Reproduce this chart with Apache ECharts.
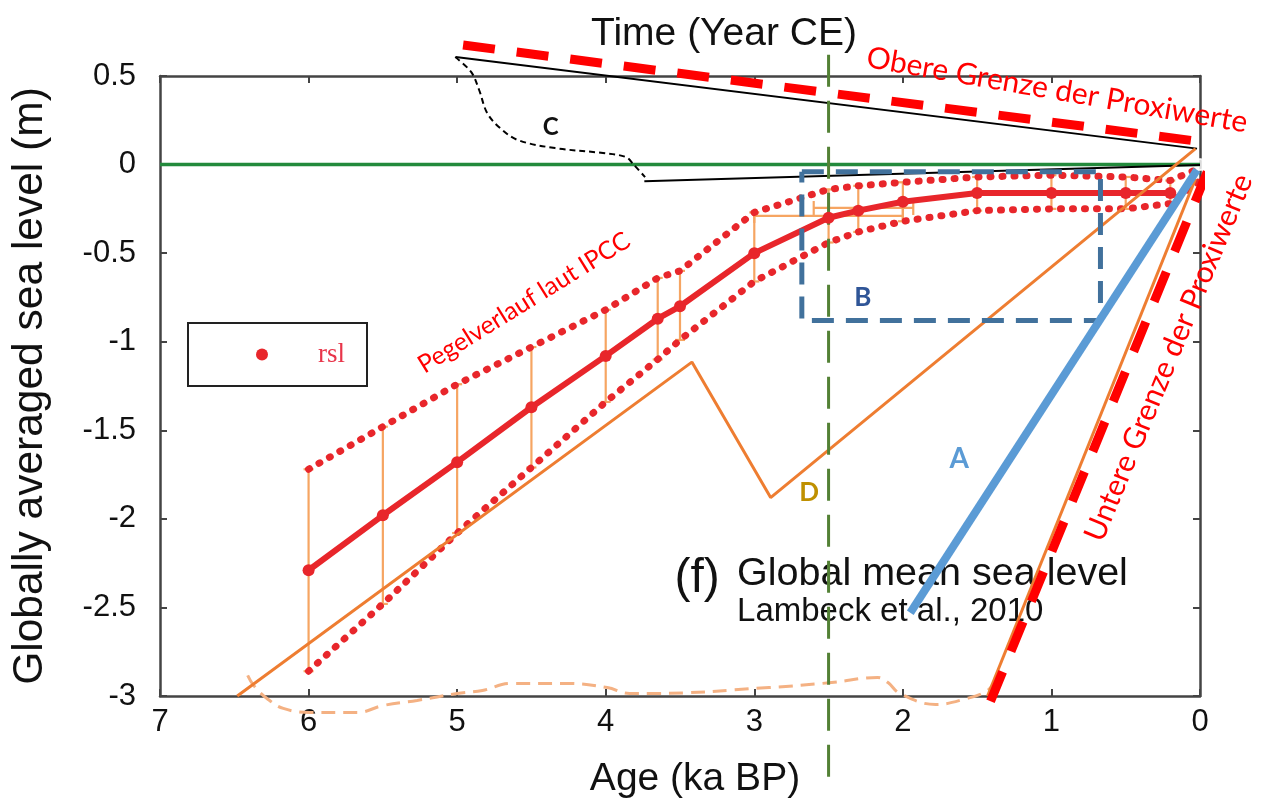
<!DOCTYPE html>
<html><head><meta charset="utf-8">
<script src="https://cdn.jsdelivr.net/npm/echarts@6/dist/echarts.min.js"></script>
<style>html,body{margin:0;padding:0;background:#fff}#c{width:1266px;height:809px}</style>
</head><body><div id="c"></div>
<script>
// ---- data (age in ka BP, sea level in m) ----
const xTickValues = [0, 1, 2, 3, 4, 5, 6, 7];
const yTickValues = [0.5, 0, -0.5, -1, -1.5, -2, -2.5, -3];
const rslAge   = [6, 5.5, 5, 4.5, 4, 3.65, 3.5, 3, 2.5, 2.3, 2, 1.5, 1, 0.5, 0.2];
const rslValue = [-2.29, -1.98, -1.68, -1.37, -1.08, -0.87, -0.80, -0.50, -0.30, -0.26, -0.21, -0.16, -0.16, -0.16, -0.16];
const rslUpper = [-1.72, -1.48, -1.24, -1.03, -0.82, -0.64, -0.60, -0.27, -0.14, -0.12, -0.10, -0.07, -0.06, -0.07, -0.09];
const rslLower = [-2.86, -2.48, -2.08, -1.71, -1.34, -1.10, -0.99, -0.66, -0.44, -0.38, -0.32, -0.26, -0.25, -0.25, -0.22];
const boundEndAge = 0;
const boundEndUpper = -0.02;
const boundEndLower = -0.09;
const rslPresent = [0, 0];
const ageErrY = [-0.29, -0.245];
const ageErrFrom = [3.0, 2.6];
const ageErrTo = [2.0, 1.93];
const zeroLine = [[7, 0], [0, 0]];
const upperProxyBound = [[4.96, 0.675], [-0.09, 0.12]];
const lowerProxyBound = [[1.41, -3.03], [-0.054, -0.03]];
const blackTop = [[5.01, 0.607], [0.02, 0.09]];
const blackLow = [[3.74, -0.094], [0.0, -0.003]];
const curveC = [[5.013, 0.607], [4.906, 0.523], [4.852, 0.421], [4.798, 0.291], [4.711, 0.206], [4.59, 0.138], [4.341, 0.093], [4.018, 0.065], [3.863, 0.042], [3.809, -0.003], [3.735, -0.071]];
const boxB = [[2.68, -0.04], [0.67, -0.04], [0.67, -0.88], [2.68, -0.88], [2.68, -0.04]];
const lineA = [[1.95, -2.53], [0.02, -0.03]];
const lineD = [[6.48, -3.0], [3.42, -1.115], [2.89, -1.88], [0.03, 0.09]];
const lineSteep = [[1.43, -3.0], [0.03, -0.08]];
const verticalMark = [[2.5, 0.62], [2.5, -3.48]];
const bottomCurve = [[6.41, -2.884], [6.37, -2.94], [6.28, -3.014], [6.17, -3.07], [5.99, -3.093], [5.67, -3.093], [5.5, -3.054], [5.27, -3.025], [5.0, -2.986], [4.83, -2.969], [4.64, -2.929], [4.26, -2.929], [3.99, -2.952], [3.84, -2.986], [3.7, -2.986], [2.9, -2.952], [2.48, -2.924], [2.17, -2.895], [2.1, -2.924], [2.02, -2.986], [1.78, -3.048], [1.57, -3.014], [1.43, -2.969], [1.38, -2.912]];

const annotations = [
  {text: 'C', at: [4.37, 0.21], size: 24, weight: 'bold', color: '#111', family: 'Lato', rot: 0, align: 'center'},
  {text: 'B', at: [2.27, -0.75], size: 26, weight: 'bold', color: '#2f5597', family: 'Lato', rot: 0, align: 'center'},
  {text: 'A', at: [1.62, -1.66], size: 28, weight: 'bold', color: '#5b9bd5', family: 'Lato', rot: 0, align: 'center'},
  {text: 'D', at: [2.63, -1.85], size: 26, weight: 'bold', color: '#bf9000', family: 'Lato', rot: 0, align: 'center'},
  {text: 'Pegelverlauf laut IPCC', at: [4.55, -0.78], size: 25, weight: 'normal', color: '#ff0000', family: 'Lato', rot: 31.8, align: 'center'},
  {text: 'Obere Grenze der Proxiwerte', at: [0.962, 0.42], size: 30, weight: 'normal', color: '#ff0000', family: 'Lato', rot: -9.8, align: 'center'},
  {text: 'Untere Grenze der Proxiwerte', at: [0.21, -1.09], size: 30, weight: 'normal', color: '#ff0000', family: 'Lato', rot: 67.5, align: 'center'},
  {text: '(f)', at: [3.385, -2.336], size: 48, weight: 'normal', color: '#111', family: 'Liberation Sans', rot: 0, align: 'center'},
  {text: 'Global mean sea level', at: [3.116, -2.314], size: 39.5, weight: 'normal', color: '#111', family: 'Liberation Sans', rot: 0, align: 'left'},
  {text: 'Lambeck et al., 2010', at: [3.116, -2.528], size: 33, weight: 'normal', color: '#111', family: 'Liberation Sans', rot: 0, align: 'left'}
];

const pairs = (xs, ys) => xs.map((x, i) => [x, ys[i]]);
const RED = '#e8262b';
const AXC = '#444';
const FONT = 'Liberation Sans';

const chart = echarts.init(document.getElementById('c'));

const axisCommon = {
  type: 'value',
  axisLine: {show: true, onZero: false, lineStyle: {color: AXC, width: 2.5}},
  axisTick: {show: true, inside: true, length: 7, lineStyle: {color: AXC, width: 2}},
  splitLine: {show: false}
};

const option = {
  backgroundColor: '#fff',
  animation: false,
  grid: {left: 160, right: 66, top: 76, bottom: 113},
  legend: {
    left: 188, top: 323, orient: 'horizontal',
    padding: [18, 22, 18, 68],
    borderColor: '#222', borderWidth: 2, borderRadius: 0,
    itemWidth: 12, itemHeight: 12, selectedMode: false,
    textStyle: {fontFamily: 'Liberation Serif', fontSize: 27, color: '#e8354a', padding: [0, 0, 0, 45]},
    data: [{name: 'rsl', icon: 'circle'}]
  },
  xAxis: [
    Object.assign({}, axisCommon, {
      position: 'bottom', inverse: true, min: 0, max: 7, interval: 1,
      axisLabel: {fontFamily: FONT, fontSize: 31, color: '#111', margin: 11,
        formatter: v => xTickValues.includes(v) ? String(v) : ''},
      name: 'Age (ka BP)', nameLocation: 'middle', nameGap: 64,
      nameTextStyle: {fontFamily: FONT, fontSize: 39, color: '#111', padding: [0, 0, 0, 30]}
    }),
    Object.assign({}, axisCommon, {
      position: 'top', inverse: true, min: 0, max: 7, interval: 1,
      axisLabel: {show: false},
      name: 'Time (Year CE)', nameLocation: 'middle', nameGap: 22,
      nameTextStyle: {fontFamily: FONT, fontSize: 39, color: '#111', padding: [0, 0, 0, 88]}
    })
  ],
  yAxis: [
    Object.assign({}, axisCommon, {
      position: 'left', min: -3, max: 0.5, interval: 0.5,
      axisLabel: {fontFamily: FONT, fontSize: 31, color: '#111', margin: 24,
        formatter: v => yTickValues.includes(v) ? String(v) : ''},
      name: 'Globally averaged sea level (m)', nameLocation: 'middle', nameGap: 108,
      nameTextStyle: {fontFamily: FONT, fontSize: 42.5, color: '#111'}
    }),
    Object.assign({}, axisCommon, {
      position: 'right', min: -3, max: 0.5, interval: 0.5,
      axisLabel: {show: false}
    })
  ],
  series: [
    {name: 'zero', type: 'line', data: zeroLine, symbol: 'none', silent: true,
     lineStyle: {color: '#238a3c', width: 3.5}},
    {name: 'bottomCurve', type: 'line', data: bottomCurve, symbol: 'none', smooth: 0.4, clip: false,
     lineStyle: {color: '#f4b183', width: 3, type: [14, 8]}},
    {name: 'upperDotted', type: 'line', data: pairs(rslAge, rslUpper).concat([[boundEndAge, boundEndUpper]]), symbol: 'none',
     lineStyle: {color: RED, width: 7, type: [1, 11], cap: 'round'}},
    {name: 'lowerDotted', type: 'line', data: pairs(rslAge, rslLower).concat([[boundEndAge, boundEndLower]]), symbol: 'none',
     lineStyle: {color: RED, width: 7, type: [1, 11], cap: 'round'}},
    {name: 'errV', type: 'custom', clip: false,
     data: rslAge.map((a, i) => [a, rslLower[i], rslUpper[i]]),
     encode: {x: 0, y: [1, 2]},
     renderItem: function (params, api) {
       const a = api.value(0), lo = api.value(1), hi = api.value(2);
       const p1 = api.coord([a, hi]), p2 = api.coord([a, lo]);
       const cap = 5, st = {stroke: '#f6a562', lineWidth: 2.2};
       return {type: 'group', children: [
         {type: 'line', shape: {x1: p1[0], y1: p1[1], x2: p2[0], y2: p2[1]}, style: st},
         {type: 'line', shape: {x1: p1[0] - cap, y1: p1[1], x2: p1[0] + cap, y2: p1[1]}, style: st},
         {type: 'line', shape: {x1: p2[0] - cap, y1: p2[1], x2: p2[0] + cap, y2: p2[1]}, style: st}
       ]};
     }},
    {name: 'errH', type: 'custom', clip: false,
     data: ageErrY.map((y, i) => [ageErrFrom[i], ageErrTo[i], y]),
     encode: {x: [0, 1], y: 2},
     renderItem: function (params, api) {
       const a1 = api.value(0), a2 = api.value(1), y = api.value(2);
       const p1 = api.coord([a1, y]), p2 = api.coord([a2, y]);
       const cap = 7, st = {stroke: '#f6a562', lineWidth: 2.2};
       return {type: 'group', children: [
         {type: 'line', shape: {x1: p1[0], y1: p1[1], x2: p2[0], y2: p2[1]}, style: st},
         {type: 'line', shape: {x1: p1[0], y1: p1[1] - cap, x2: p1[0], y2: p1[1] + cap}, style: st},
         {type: 'line', shape: {x1: p2[0], y1: p2[1] - cap, x2: p2[0], y2: p2[1] + cap}, style: st}
       ]};
     }},
    {name: 'rsl', type: 'line', data: pairs(rslAge, rslValue), symbol: 'circle', symbolSize: 12,
     itemStyle: {color: RED}, lineStyle: {color: RED, width: 6}},
    {name: 'rslPresent', type: 'scatter', data: [rslPresent], symbol: 'emptyCircle', symbolSize: 11, clip: false,
     itemStyle: {color: '#fff', borderColor: RED, borderWidth: 2.5}},
    {name: 'blackTop', type: 'line', data: blackTop, symbol: 'none', clip: false,
     lineStyle: {color: '#000', width: 2}},
    {name: 'curveC', type: 'line', data: curveC, symbol: 'none', smooth: 0.35, clip: false,
     lineStyle: {color: '#000', width: 2, type: [6, 4]}},
    {name: 'blackLow', type: 'line', data: blackLow, symbol: 'none',
     lineStyle: {color: '#000', width: 2}},
    {name: 'lineD', type: 'line', data: lineD, symbol: 'none', clip: false,
     lineStyle: {color: '#ee7d31', width: 3}},
    {name: 'lineSteep', type: 'line', data: lineSteep, symbol: 'none', clip: false,
     lineStyle: {color: '#ee7d31', width: 3}},
    {name: 'boxB', type: 'line', data: boxB, symbol: 'none',
     lineStyle: {color: '#41719c', width: 5, type: [22, 12]}},
    {name: 'lineA', type: 'line', data: lineA, symbol: 'none',
     lineStyle: {color: '#5b9bd5', width: 8}},
    {name: 'upperBound', type: 'line', data: upperProxyBound, symbol: 'none', clip: false,
     lineStyle: {color: '#ff0000', width: 9, type: [32, 22]}},
    {name: 'lowerBound', type: 'line', data: lowerProxyBound, symbol: 'none', clip: false,
     lineStyle: {color: '#ff0000', width: 9, type: [32, 22]}},
    {name: 'vertical', type: 'line', data: verticalMark, symbol: 'none', clip: false,
     lineStyle: {color: '#538135', width: 3, type: [32, 14]}}
  ]
};

chart.setOption(option);

const graphics = annotations.map(a => {
  const p = chart.convertToPixel({gridIndex: 0}, a.at);
  return {
    type: 'text', x: p[0], y: p[1], rotation: a.rot * Math.PI / 180, z: 1, silent: true,
    style: {
      text: a.text, fill: a.color, fontSize: a.size, fontFamily: a.family, fontWeight: a.weight,
      align: a.align, verticalAlign: 'middle', textAlign: a.align, textVerticalAlign: 'middle'
    }
  };
});
chart.setOption({graphic: graphics});
</script>
</body></html>
